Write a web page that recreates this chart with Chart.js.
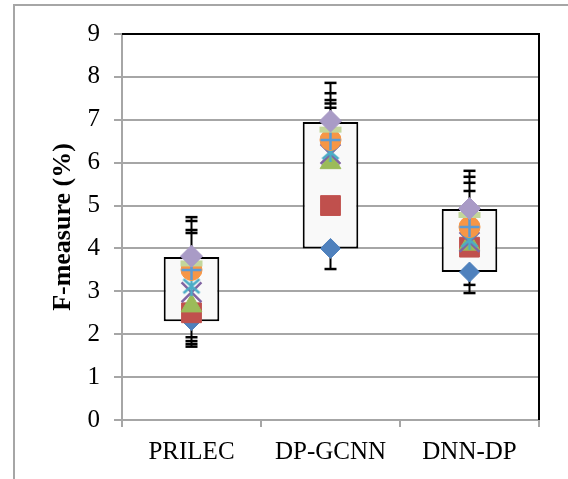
<!DOCTYPE html>
<html>
<head>
<meta charset="utf-8">
<script src="https://cdn.jsdelivr.net/npm/chart.js"></script>
<style>
body { margin: 0; background: #fff; }
</style>
</head>
<body>
<canvas id="myChart" width="568" height="479"></canvas>
<script>
var labels = ['PRILEC', 'DP-GCNN', 'DNN-DP'];

// white boxes (min .. max of the series)
var boxLow = [2.3, 4.0, 3.45];
var boxHigh = [3.8, 6.95, 4.92];

// marker series, one value per category
var blueDiamond = [2.32, 4.0, 3.45];
var redSquare = [2.5, 5.0, 4.03];
var greenTriangle = [2.66, 6.0, 4.1];
var purpleX = [2.98, 6.2, 4.15];
var cyanStar = [3.12, 6.25, 4.2];
var orangeCircle = [3.5, 6.53, 4.5];
var bluePlus = [3.5, 6.53, 4.5];
var greenDash = [3.65, 6.77, 4.78];
var lavenderDiamond = [3.82, 6.97, 4.93];

// error bar caps (black)
var capsHigh = [[4.73, 4.64, 4.43, 4.36], [7.86, 7.62, 7.46, 7.38, 7.28], [5.81, 5.67, 5.53, 5.34]];
var capsLow = [[1.93, 1.84, 1.77, 1.71], [3.52], [3.15, 2.96]];

var gray = '#a6a6a6';
var serif = "'Liberation Serif', 'Times New Roman', serif";

// asterisk marker like excel's star
var star = document.createElement('canvas');
star.width = 22; star.height = 22;
var sc = star.getContext('2d');
sc.strokeStyle = '#4BACC6';
sc.lineWidth = 2.5;
sc.beginPath();
sc.moveTo(3, 4); sc.lineTo(19, 18);
sc.moveTo(19, 4); sc.lineTo(3, 18);
sc.moveTo(11, 1); sc.lineTo(11, 21);
sc.stroke();

function markers(data, style, radius, fill, line, width, order) {
    return {
        type: 'line',
        data: data,
        showLine: false,
        pointStyle: style,
        pointRadius: radius,
        pointHoverRadius: radius,
        pointBackgroundColor: fill,
        pointBorderColor: line,
        pointBorderWidth: width,
        order: order
    };
}

var framePlugin = {
    id: 'frame',
    beforeDraw: function(chart) {
        var ctx = chart.ctx;
        ctx.save();
        ctx.strokeStyle = gray;
        ctx.lineWidth = 2;
        ctx.beginPath();
        ctx.moveTo(14, 600);
        ctx.lineTo(14, 5);
        ctx.lineTo(600, 5);
        ctx.stroke();
        ctx.restore();
    },
    beforeDatasetsDraw: function(chart) {
        var ctx = chart.ctx;
        var xs = chart.scales.x, ys = chart.scales.y;
        ctx.save();
        ctx.strokeStyle = '#000';
        labels.forEach(function(l, i) {
            var x = xs.getPixelForValue(i);
            var top = ys.getPixelForValue(Math.max.apply(null, capsHigh[i]));
            var bot = ys.getPixelForValue(Math.min.apply(null, capsLow[i]));
            ctx.lineWidth = 2;
            ctx.beginPath();
            ctx.moveTo(x, top);
            ctx.lineTo(x, bot);
            ctx.stroke();
            ctx.lineWidth = 2.5;
            capsHigh[i].concat(capsLow[i]).forEach(function(v) {
                var y = ys.getPixelForValue(v);
                ctx.beginPath();
                ctx.moveTo(x - 6, y);
                ctx.lineTo(x + 6, y);
                ctx.stroke();
            });
        });
        ctx.restore();
    },
    afterDraw: function(chart) {
        var a = chart.chartArea, ctx = chart.ctx;
        ctx.save();
        ctx.strokeStyle = '#000';
        ctx.lineWidth = 2;
        ctx.beginPath();
        ctx.moveTo(a.left, a.top);
        ctx.lineTo(a.right, a.top);
        ctx.lineTo(a.right, a.bottom);
        ctx.stroke();
        ctx.restore();
    }
};

var ctx = document.getElementById('myChart').getContext('2d');
var chart = new Chart(ctx, {
    data: {
        labels: labels,
        datasets: [
            {
                type: 'bar',
                data: boxLow.map(function(v, i) { return [v, boxHigh[i]]; }),
                backgroundColor: '#f9f9f9',
                borderColor: '#000',
                borderWidth: 2,
                borderSkipped: false,
                barPercentage: 0.4,
                categoryPercentage: 1,
                order: 20
            },
            markers(blueDiamond, 'rectRot', 10, '#4F81BD', '#4F81BD', 1, 9),
            markers(redSquare, 'rect', 14, '#C0504D', '#C0504D', 1, 8),
            markers(greenTriangle, 'triangle', 12, '#9BBB59', '#9BBB59', 1, 7),
            markers(purpleX, 'crossRot', 14, '#8064A2', '#8064A2', 2.5, 6),
            markers(cyanStar, star, 11, '#4BACC6', '#4BACC6', 1, 5),
            markers(orangeCircle, 'circle', 10.5, '#F79646', '#F79646', 1, 4),
            markers(bluePlus, 'cross', 10, '#5B9BD5', '#5B9BD5', 2.5, 3),
            markers(greenDash, 'line', 11, '#C3D69B', '#C3D69B', 6, 2),
            markers(lavenderDiamond, 'rectRot', 11, '#A99BC6', '#A99BC6', 1, 1)
        ]
    },
    options: {
        responsive: false,
        animation: false,
        devicePixelRatio: 1,
        layout: { padding: { left: 0, top: 34, right: 29, bottom: 0 } },
        plugins: { legend: { display: false }, tooltip: { enabled: false } },
        scales: {
            x: {
                type: 'category',
                offset: true,
                grid: { offset: true, drawOnChartArea: false, tickLength: 7, color: gray, lineWidth: 2 },
                border: { color: gray, width: 2 },
                ticks: { font: { family: serif, size: 25 }, color: '#000', padding: 10 },
                afterFit: function(s) { s.height = 59; }
            },
            y: {
                min: 0,
                max: 9,
                ticks: { stepSize: 1, font: { family: serif, size: 25 }, color: '#000', padding: 14 },
                grid: { color: gray, lineWidth: 2, tickLength: 8 },
                border: { color: gray, width: 2 },
                title: {
                    display: true,
                    text: 'F-measure (%)',
                    color: '#000',
                    font: { family: serif, size: 26, weight: 'bold' },
                    padding: { top: 48, bottom: 0 }
                },
                afterFit: function(s) { s.width = 122; }
            }
        }
    },
    plugins: [framePlugin]
});
</script>
</body>
</html>
